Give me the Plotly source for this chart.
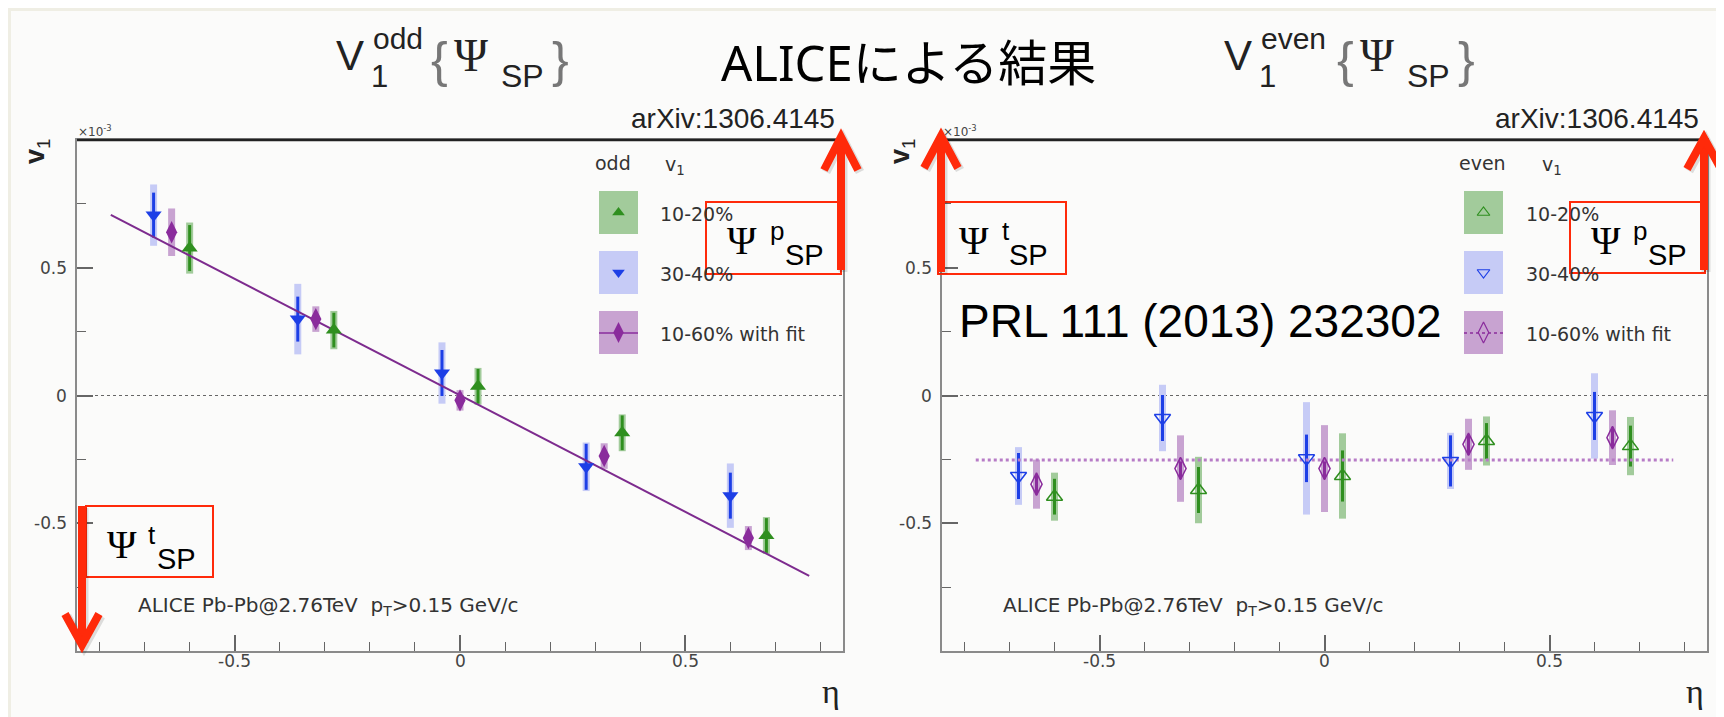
import plotly.graph_objects as go

W, H = 1724, 717

# ---------------- data (v1 in units of 1e-3) ----------------
eta_1020 = [-0.60, -0.28, 0.04, 0.36, 0.68]
eta_3040 = [-0.68, -0.36, -0.04, 0.28, 0.60]
eta_1060 = [-0.64, -0.32, 0.00, 0.32, 0.64]

odd_1020 = [0.577, 0.256, 0.036, -0.146, -0.548]
odd_1020_stat = [0.090, 0.068, 0.068, 0.068, 0.068]
odd_1020_syst = [0.100, 0.075, 0.072, 0.072, 0.072]
odd_3040 = [0.706, 0.299, 0.088, -0.279, -0.392]
odd_3040_stat = [0.088, 0.088, 0.090, 0.090, 0.090]
odd_3040_syst = [0.120, 0.138, 0.120, 0.095, 0.126]
odd_1060 = [0.639, 0.299, -0.019, -0.237, -0.558]
odd_1060_stat = [0.030, 0.030, 0.030, 0.030, 0.030]
odd_1060_syst = [0.093, 0.050, 0.040, 0.050, 0.047]

even_1020 = [-0.396, -0.370, -0.315, -0.178, -0.198]
even_1020_stat = [0.070, 0.090, 0.100, 0.070, 0.080]
even_1020_syst = [0.094, 0.130, 0.167, 0.096, 0.114]
even_3040 = [-0.315, -0.088, -0.246, -0.256, -0.080]
even_3040_stat = [0.090, 0.090, 0.093, 0.100, 0.094]
even_3040_syst = [0.113, 0.130, 0.220, 0.110, 0.167]
even_1060 = [-0.347, -0.286, -0.286, -0.191, -0.165]
even_1060_stat = [0.040, 0.040, 0.040, 0.040, 0.040]
even_1060_syst = [0.096, 0.130, 0.170, 0.100, 0.107]

fit_eta = [-0.775, 0.775]
odd_fit = [0.707, -0.706]
even_fit = [-0.252, -0.252]

x_tickvals = [-0.5, 0, 0.5]
x_ticktext = ["-0.5", "0", "0.5"]
y_tickvals = [-0.5, 0, 0.5]
y_ticktext = ["-0.5", "0", "0.5"]

legend_labels = ["10-20%", "30-40%", "10-60% with fit"]

# ---------------- styles ----------------
SANS = "DejaVu Sans, sans-serif"
ARIAL = "Liberation Sans, Arial, sans-serif"
SERIF = "Liberation Serif, Times New Roman, serif"
RED = "#ff2a0a"

C_GREEN = "#2f8f1f"; L_GREEN = "#a2cb9b"
C_BLUE = "#1d3fe6"; L_BLUE = "#c6cbf6"
C_PURP = "#8a2c9c"; L_PURP = "#c8a3d1"

fig = go.Figure()


def add_series(eta, v, stat, syst, color, light, xa, ya):
    fig.add_trace(go.Scatter(x=eta, y=v, mode="markers", xaxis=xa, yaxis=ya,
                             marker=dict(size=1, opacity=0),
                             error_y=dict(type="data", array=syst, color=light,
                                          thickness=7, width=0),
                             showlegend=False, hoverinfo="skip"))
    fig.add_trace(go.Scatter(x=eta, y=v, mode="markers", xaxis=xa, yaxis=ya,
                             marker=dict(size=1, opacity=0),
                             error_y=dict(type="data", array=stat, color=color,
                                          thickness=3, width=0),
                             showlegend=False, hoverinfo="skip"))


def add_markers(eta, v, color, symbol, size, xa, ya, lw=0):
    fig.add_trace(go.Scatter(x=eta, y=v, mode="markers", xaxis=xa, yaxis=ya,
                             marker=dict(symbol=symbol, size=size, color=color,
                                         line=dict(width=lw, color=color)),
                             showlegend=False))


for xa, ya in (("x", "y"), ("x2", "y2")):
    fig.add_trace(go.Scatter(x=[-0.85, 0.85], y=[0, 0], mode="lines", xaxis=xa, yaxis=ya,
                             line=dict(color="#666", width=1, dash="3px,3px"),
                             showlegend=False, hoverinfo="skip"))

# odd panel
add_series(eta_3040, odd_3040, odd_3040_stat, odd_3040_syst, C_BLUE, L_BLUE, "x", "y")
add_series(eta_1060, odd_1060, odd_1060_stat, odd_1060_syst, C_PURP, L_PURP, "x", "y")
add_series(eta_1020, odd_1020, odd_1020_stat, odd_1020_syst, C_GREEN, L_GREEN, "x", "y")
fig.add_trace(go.Scatter(x=fit_eta, y=odd_fit, mode="lines", xaxis="x", yaxis="y",
                         line=dict(color="#7d2b8e", width=2), showlegend=False))
add_markers(eta_3040, odd_3040, C_BLUE, "triangle-down", 14, "x", "y")
add_markers(eta_1060, odd_1060, C_PURP, "diamond-tall", 16, "x", "y")
add_markers(eta_1020, odd_1020, C_GREEN, "triangle-up", 14, "x", "y")

# even panel
add_series(eta_3040, even_3040, even_3040_stat, even_3040_syst, C_BLUE, L_BLUE, "x2", "y2")
add_series(eta_1060, even_1060, even_1060_stat, even_1060_syst, C_PURP, L_PURP, "x2", "y2")
add_series(eta_1020, even_1020, even_1020_stat, even_1020_syst, C_GREEN, L_GREEN, "x2", "y2")
fig.add_trace(go.Scatter(x=fit_eta, y=even_fit, mode="lines", xaxis="x2", yaxis="y2",
                         line=dict(color="#b77cc6", width=3, dash="dot"), showlegend=False))
add_markers(eta_3040, even_3040, C_BLUE, "triangle-down-open", 14, "x2", "y2", 1.5)
add_markers(eta_1060, even_1060, C_PURP, "diamond-tall-open", 16, "x2", "y2", 1.5)
add_markers(eta_1020, even_1020, C_GREEN, "triangle-up-open", 14, "x2", "y2", 1.5)

# ---------------- legend swatches (pixel overlay axis) ----------------
box_rows = [183, 243, 303]
lights = [L_GREEN, L_BLUE, L_PURP]
darks = [C_GREEN, C_BLUE, C_PURP]
shapes = []
annotations = []
for bx, open_ in ((591, False), (1456, True)):
    for i, ty in enumerate(box_rows):
        shapes.append(dict(type="rect", xref="x3", yref="y3", x0=bx, x1=bx + 39,
                           y0=ty, y1=ty + 43, fillcolor=lights[i], line=dict(width=0),
                           layer="below"))
    cx = bx + 19.5
    fig.add_trace(go.Scatter(x=[bx, bx + 39], y=[325, 325], mode="lines", xaxis="x3", yaxis="y3",
                             line=dict(color=C_PURP, width=1.5, dash="dot" if open_ else "solid"),
                             showlegend=False, hoverinfo="skip"))
    sfx = "-open" if open_ else ""
    for i, (sym, sz) in enumerate((("triangle-up", 11), ("triangle-down", 11), ("diamond-tall", 15))):
        fig.add_trace(go.Scatter(x=[cx], y=[box_rows[i] + 21.5], mode="markers", xaxis="x3", yaxis="y3",
                                 marker=dict(symbol=sym + sfx, size=sz, color=darks[i],
                                             line=dict(width=1.2 if open_ else 0, color=darks[i])),
                                 showlegend=False, hoverinfo="skip"))


def ann(text, x, y, size, color="#222", family=SANS, xanchor="center", yanchor="middle", angle=0,
        xref="x3", yref="y3"):
    annotations.append(dict(text=text, x=x, y=y, xref=xref, yref=yref, showarrow=False,
                            font=dict(size=size, color=color, family=family),
                            xanchor=xanchor, yanchor=yanchor, textangle=angle))


# legend texts
for lx, hx, vx, head in ((650, 585, 655, "odd"), (1516, 1449, 1532, "even")):
    ann(head, hx, 155, 19, "#333", SANS, "left")
    ann("v<sub>1</sub>", vx, 157, 19, "#333", SANS, "left")
    for i, lab in enumerate(legend_labels):
        ann(lab, lx, box_rows[i] + 23, 19, "#333", SANS, "left")

# tick labels (placed through the data axes)
for (xr, yr), left in ((("x", "y"), 69), (("x2", "y2"), 934)):
    for v, t in zip(x_tickvals, x_ticktext):
        ann(t, v, 653, 17, "#444", SANS, "center", "middle", 0, xr, "y3")
    for v, t in zip(y_tickvals, y_ticktext):
        ann(t, left - 8, v, 17, "#444", SANS, "right", "middle", 0, "x3", yr)

# panel texts
for left, right in ((69, 835), (934, 1699)):
    ann("×10<sup>-3</sup>", left - 1, 123, 12, "#444", SANS, "left")
    ann("<b>v</b><sub>1</sub>", left - 40, 143, 27, "#222", ARIAL, "center", "middle", -90)
    ann("arXiv:1306.4145", right - 6, 128, 28, "#222", ARIAL, "right", "bottom")
    ann("η", right - 12, 683, 34, "#222", SERIF)
    ann("ALICE Pb-Pb@2.76TeV\u00a0\u00a0p<sub>T</sub>&gt;0.15 GeV/c", left + 59, 598, 20, "#333", SANS, "left")
    shapes.append(dict(type="line", xref="x3", yref="y3", x0=left, x1=right, y0=132, y1=132,
                       line=dict(color="#222", width=2.5)))

ann("PRL 111 (2013) 232302", 949, 313, 46, "#000", ARIAL, "left")

# titles
ann("ALICEによる結果", 711, 54, 49, "#000", "Noto Sans, Noto Sans CJK JP, sans-serif", "left")
for vx, sup in ((326, "odd"), (1214, "even")):
    shift = 0 if sup == "odd" else 18
    ann("V", vx, 47, 42, "#222", ARIAL, "left")
    ann("1", vx + 35, 68, 31, "#222", ARIAL, "left")
    ann(sup, vx + 37, 30, 30, "#222", ARIAL, "left")
    ann("{", vx + 105 + shift, 52, 50, "#777", ARIAL)
    ann("Ψ", vx + 137 + shift, 47, 46, "#222", SERIF)
    ann("SP", vx + 165 + shift, 68, 32, "#222", ARIAL, "left")
    ann("}", vx + 226 + shift, 52, 50, "#777", ARIAL)

# red boxes with Psi labels
for bx, by, w, h, sup, sdx, spdx in ((698, 194, 135, 72, "p", 62, 77),
                                      (78, 498, 127, 71, "t", 60, 69),
                                      (930, 194, 128, 72, "t", 62, 69),
                                      (1562, 194, 135, 71, "p", 61, 76)):
    shapes.append(dict(type="rect", xref="x3", yref="y3", x0=bx, x1=bx + w, y0=by, y1=by + h,
                       line=dict(color=RED, width=2)))
    ann("Ψ", bx + 36, by + 38, 40, "#000", SERIF)
    ann(sup, bx + sdx, by + 29, 26, "#000", ARIAL, "left")
    ann("SP", bx + spdx, by + 53, 29, "#000", ARIAL, "left")

# red arrows (with soft shadow)
for ax, y_from, y_tip, arm in ((833, 262, 129, 33), (74, 498, 637, -31),
                               (933, 264, 128, 32), (1696, 262, 130, 31)):
    for dx, col, wd in ((2, "rgba(0,0,0,0.12)", 9), (0, RED, 8)):
        shapes.append(dict(type="line", xref="x3", yref="y3", x0=ax + dx, x1=ax + dx, y0=y_from + dx,
                           y1=y_tip + dx + (4 if arm > 0 else -4), line=dict(color=col, width=wd)))
        shapes.append(dict(type="path", xref="x3", yref="y3",
                           path=f"M {ax-17+dx},{y_tip+arm+dx} L {ax+dx},{y_tip+dx} L {ax+17+dx},{y_tip+arm+dx}",
                           line=dict(color=col, width=wd)))

# slide border
shapes.append(dict(type="rect", xref="paper", yref="paper", x0=0, x1=1, y0=0, y1=1,
                   line=dict(color="#efeee4", width=6)))

axis_common = dict(range=[-0.85, 0.85], showgrid=False, zeroline=False, showline=True, mirror=True,
                   linecolor="#8a8a8a", linewidth=1.5, ticks="inside", ticklen=16, tickwidth=1.5,
                   tickcolor="#666", tickvals=x_tickvals, showticklabels=False,
                   minor=dict(dtick=0.1, tick0=0, ticks="inside", ticklen=9, tickwidth=1.2,
                              tickcolor="#666"))
yaxis_common = dict(range=[-1, 1], showgrid=False, zeroline=False, showline=True, mirror=True,
                    linecolor="#8a8a8a", linewidth=1.5, ticks="inside", ticklen=16, tickwidth=1.5,
                    tickcolor="#666", tickvals=y_tickvals, showticklabels=False,
                    minor=dict(dtick=0.25, tick0=0, ticks="inside", ticklen=9, tickwidth=1.2,
                               tickcolor="#666"))

ydom = [1 - 643 / H, 1 - 132 / H]
fig.update_layout(
    width=W, height=H, margin=dict(l=0, r=0, t=0, b=0),
    paper_bgcolor="#fbfbfa", plot_bgcolor="rgba(0,0,0,0)",
    showlegend=False,
    xaxis=dict(domain=[69 / W, 835 / W], anchor="y", **axis_common),
    yaxis=dict(domain=ydom, anchor="x", **yaxis_common),
    xaxis2=dict(domain=[934 / W, 1699 / W], anchor="y2", **axis_common),
    yaxis2=dict(domain=ydom, anchor="x2", **yaxis_common),
    xaxis3=dict(domain=[0, 1], anchor="y3", range=[0, W], visible=False, fixedrange=True),
    yaxis3=dict(domain=[0, 1], anchor="x3", range=[H, 0], visible=False, fixedrange=True),
    shapes=shapes, annotations=annotations,
)

fig.write_html("out.html")
